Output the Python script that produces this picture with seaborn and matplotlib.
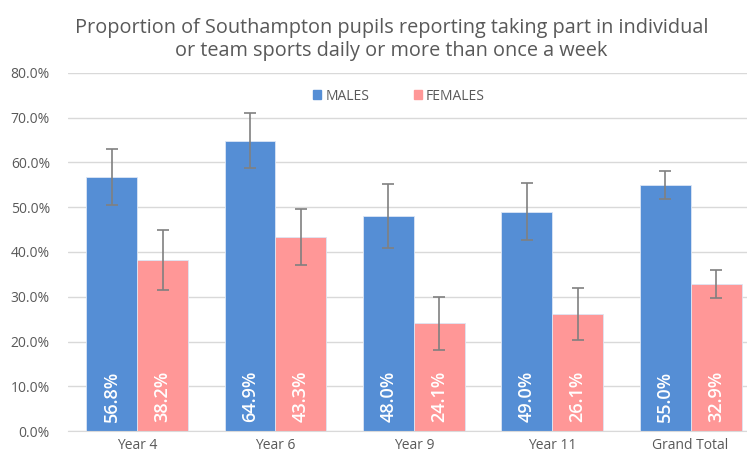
import matplotlib

matplotlib.use("Agg")
import matplotlib.pyplot as plt
import pandas as pd
import seaborn as sns
from matplotlib.patches import Patch
from matplotlib.ticker import FuncFormatter

GROUPS = ["Year 4", "Year 6", "Year 9", "Year 11", "Grand Total"]
MALES = [0.568, 0.649, 0.480, 0.490, 0.550]
FEMALES = [0.382, 0.433, 0.241, 0.261, 0.329]
MALES_ERR = [0.062, 0.061, 0.072, 0.064, 0.032]
FEMALES_ERR = [0.066, 0.063, 0.059, 0.058, 0.031]

COLORS = {"MALES": "#558ED5", "FEMALES": "#FF9797"}
GREY = "#595959"

d = pd.DataFrame({
    "group": GROUPS * 2,
    "value": MALES + FEMALES,
    "err": MALES_ERR + FEMALES_ERR,
    "sex": ["MALES"] * len(GROUPS) + ["FEMALES"] * len(GROUPS),
})

sns.set_style("white")
plt.rcParams["font.family"] = ["Open Sans", "DejaVu Sans"]

fig = plt.figure(figsize=(7.47, 4.55), dpi=100)
ax = fig.add_axes([0.091, 0.0527, 0.926, 0.787])

sns.barplot(data=d, x="group", y="value", hue="sex", order=GROUPS,
            hue_order=["MALES", "FEMALES"], palette=COLORS, width=0.737,
            gap=0, errorbar=None, legend=False, saturation=1, ax=ax,
            edgecolor="#DCE6F5", linewidth=0.6)

for cont, sex in zip(ax.containers, ["MALES", "FEMALES"]):
    sub = d[d["sex"] == sex]
    xs = [b.get_x() + b.get_width() / 2 for b in cont]
    ax.errorbar(xs, sub["value"], yerr=sub["err"], fmt="none", ecolor="#808080",
                elinewidth=1.2, capsize=4, capthick=1.2, zorder=3)
    for x, v in zip(xs, sub["value"]):
        ax.text(x, 0.021, f"{v * 100:.1f}%", rotation=90, ha="center", va="bottom",
                color="white", fontsize=13, fontweight="semibold", zorder=4)

ax.set_ylim(0, 0.8)
ax.set_xlim(-0.5, 4.5)
ax.set_yticks([i / 10 for i in range(9)])
ax.yaxis.set_major_formatter(FuncFormatter(lambda v, _: f"{v * 100:.1f}%"))
ax.grid(True, axis="y", color="#D9D9D9", linewidth=1)
ax.set_axisbelow(True)
ax.set_xlabel("")
ax.set_ylabel("")
ax.tick_params(axis="both", length=0, colors=GREY, labelsize=10)
ax.tick_params(axis="y", pad=13)
ax.tick_params(axis="x", pad=5)
for s in ("top", "right", "left"):
    ax.spines[s].set_visible(False)
ax.spines["bottom"].set_color("#D9D9D9")

handles = [Patch(color=COLORS[k], label=k) for k in ["MALES", "FEMALES"]]
fig.legend(handles=handles, loc="center", bbox_to_anchor=(0.534, 0.789), ncol=2,
           frameon=False, fontsize=10, handlelength=0.6, handleheight=0.6,
           handletextpad=0.3, columnspacing=3.2, labelcolor=GREY)

fig.text(0.524, 0.913, "Proportion of Southampton pupils reporting taking part in individual\n"
         "or team sports daily or more than once a week",
         ha="center", va="center", fontsize=14.3, color=GREY, linespacing=1.15)

fig.savefig("out.png", dpi=100)
